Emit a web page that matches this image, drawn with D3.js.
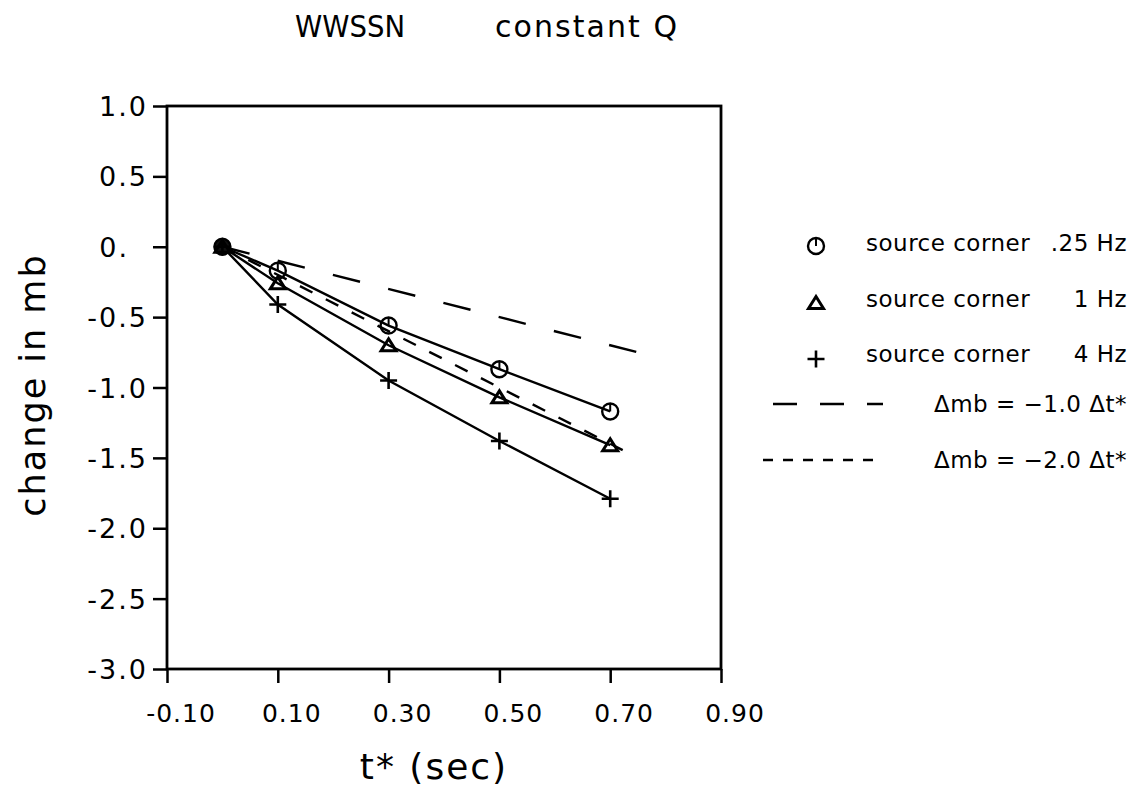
<!DOCTYPE html>
<html>
<head>
<meta charset="utf-8">
<script src="https://cdn.jsdelivr.net/npm/d3@7"></script>
<style>
  html, body { margin: 0; padding: 0; background: #fff; }
  svg { display: block; }
  text { font-family: "DejaVu Sans", sans-serif; fill: #000; }
</style>
</head>
<body>
<svg id="chart" width="1132" height="791"></svg>
<script>
// ---- data ----
const titleLeft = "WWSSN";
const titleRight = "constant Q";
const xLabel = "t* (sec)";
const yLabel = "change in mb";
const xTicks = [-0.10, 0.10, 0.30, 0.50, 0.70, 0.90];
const xTickLabels = ["-0.10", "0.10", "0.30", "0.50", "0.70", "0.90"];
const yTicks = [1.0, 0.5, 0.0, -0.5, -1.0, -1.5, -2.0, -2.5, -3.0];
const yTickLabels = ["1.0", "0.5", "0.", "-0.5", "-1.0", "-1.5", "-2.0", "-2.5", "-3.0"];

const tstar = [0, 0.1, 0.3, 0.5, 0.7];
const corner025 = [0, -0.17, -0.56, -0.87, -1.17];
const corner1 = [0, -0.26, -0.70, -1.07, -1.41];
const corner4 = [0, -0.41, -0.95, -1.38, -1.79];

const ref1T = [0, 0.76];
const ref1V = [0, -0.76];
const ref2T = [0, 0.74];
const ref2V = [0, -1.48];

const legendNames = ["source corner", "source corner", "source corner"];
const legendFreqs = [".25 Hz", "1 Hz", "4 Hz"];
const legendRefs = ["\u0394mb = \u22121.0 \u0394t*", "\u0394mb = \u22122.0 \u0394t*"];

// ---- layout ----
const svg = d3.select("#chart");
const x = d3.scaleLinear().domain([-0.1, 0.9]).range([167, 721]);
const y = d3.scaleLinear().domain([-3, 1]).range([669, 106]);

// frame
svg.append("rect")
  .attr("x", x(-0.1)).attr("y", y(1))
  .attr("width", x(0.9) - x(-0.1)).attr("height", y(-3) - y(1))
  .attr("fill", "none").attr("stroke", "#000").attr("stroke-width", 2.8);

// axes
const yAxis = d3.axisLeft(y).tickValues(yTicks).tickSize(14).tickFormat("");
const gy = svg.append("g").attr("transform", `translate(${x(-0.1)},0)`).call(yAxis);
gy.select(".domain").remove();
gy.selectAll("line").attr("stroke", "#000").attr("stroke-width", 2.5);

const xAxis = d3.axisBottom(x).tickValues(xTicks).tickSize(14).tickFormat("");
const gx = svg.append("g").attr("transform", `translate(0,${y(-3)})`).call(xAxis);
gx.select(".domain").remove();
gx.selectAll("line").attr("stroke", "#000").attr("stroke-width", 2.5);

// tick labels
svg.append("g").selectAll("text").data(yTicks).join("text")
  .attr("x", 148)
  .attr("y", d => y(d) + 10)
  .attr("text-anchor", "end")
  .attr("dx", (d, i) => yTickLabels[i].endsWith(".") ? -19 : 0)
  .style("font-size", "27px").style("letter-spacing", "2px")
  .text((d, i) => yTickLabels[i]);

svg.append("g").selectAll("text").data(xTicks).join("text")
  .attr("x", d => x(d) + 14)
  .attr("y", 722)
  .attr("text-anchor", "middle")
  .style("font-size", "25px").style("letter-spacing", "1px")
  .text((d, i) => xTickLabels[i]);

// axis titles
svg.append("text").attr("x", 434).attr("y", 779).attr("text-anchor", "middle")
  .style("font-size", "36px").style("letter-spacing", "2px").text(xLabel);
svg.append("text").attr("transform", "translate(45,385) rotate(-90)")
  .attr("text-anchor", "middle")
  .style("font-size", "35px").style("letter-spacing", "2px").text(yLabel);

// title
svg.append("text").attr("x", 295).attr("y", 37).attr("textLength", 110)
  .attr("lengthAdjust", "spacingAndGlyphs")
  .style("font-size", "30px").text(titleLeft);
svg.append("text").attr("x", 495).attr("y", 37).attr("textLength", 182)
  .attr("lengthAdjust", "spacing")
  .style("font-size", "30px").text(titleRight);

// reference lines
const line = d3.line().x(d => x(d[0])).y(d => y(d[1]));
svg.append("path").datum(ref1T.map((t, i) => [t, ref1V[i]]))
  .attr("d", line).attr("fill", "none").attr("stroke", "#000")
  .attr("stroke-width", 2.4).attr("stroke-dasharray", "28,29");
svg.append("path").datum(ref2T.map((t, i) => [t, ref2V[i]]))
  .attr("d", line).attr("fill", "none").attr("stroke", "#000")
  .attr("stroke-width", 2.4).attr("stroke-dasharray", "14,15");

// series lines
const series = [
  { vals: corner025, sym: "circle" },
  { vals: corner1, sym: "triangle" },
  { vals: corner4, sym: "plus" }
];
series.forEach(s => {
  svg.append("path").datum(tstar.map((t, i) => [t, s.vals[i]]))
    .attr("d", line).attr("fill", "none").attr("stroke", "#000")
    .attr("stroke-width", 2.4);
});

function drawSymbol(g, sym, cx, cy, filled) {
  if (sym === "circle") {
    g.append("circle").attr("cx", cx).attr("cy", cy).attr("r", 8)
      .attr("fill", filled ? "#111" : "none").attr("stroke", "#000").attr("stroke-width", 2.4);
    g.append("line").attr("x1", cx).attr("x2", cx).attr("y1", cy - 8).attr("y2", cy)
      .attr("stroke", "#000").attr("stroke-width", 2);
  } else if (sym === "triangle") {
    const h = 11, w = 15;
    g.append("path")
      .attr("d", `M${cx},${cy - h / 2 - 1}L${cx + w / 2},${cy + h / 2}L${cx - w / 2},${cy + h / 2}Z`)
      .attr("fill", "none").attr("stroke", "#000").attr("stroke-width", 3);
  } else {
    const s = 8.5;
    g.append("path")
      .attr("d", `M${cx - s},${cy}H${cx + s}M${cx},${cy - s}V${cy + s}`)
      .attr("stroke", "#000").attr("stroke-width", 2.6);
  }
}

const gm = svg.append("g");
series.forEach(s => {
  tstar.forEach((t, i) => drawSymbol(gm, s.sym, x(t), y(s.vals[i]), t === 0));
});

// legend
const lg = svg.append("g");
const symY = [246, 303, 359];
const txtY = [251, 307, 362];
series.forEach((s, i) => {
  drawSymbol(lg, s.sym, 816, symY[i], false);
  lg.append("text").attr("x", 866).attr("y", txtY[i])
    .style("font-size", "23px").style("letter-spacing", "0.5px").text(legendNames[i]);
  lg.append("text").attr("x", 1127).attr("y", txtY[i]).attr("text-anchor", "end")
    .style("font-size", "23px").style("letter-spacing", "0.5px").text(legendFreqs[i]);
});
const refY = [404, 460];
const refDash = ["24,23", "10,10"];
const refX0 = [773, 763];
const refLegend = [0, 1];
refLegend.forEach(i => {
  lg.append("line").attr("x1", refX0[i]).attr("x2", 883).attr("y1", refY[i]).attr("y2", refY[i])
    .attr("stroke", "#000").attr("stroke-width", 2.4).attr("stroke-dasharray", refDash[i]);
  lg.append("text").attr("x", 1127).attr("y", refY[i] + 8).attr("text-anchor", "end")
    .style("font-size", "23px").style("letter-spacing", "0.5px").text(legendRefs[i]);
});
</script>
</body>
</html>
